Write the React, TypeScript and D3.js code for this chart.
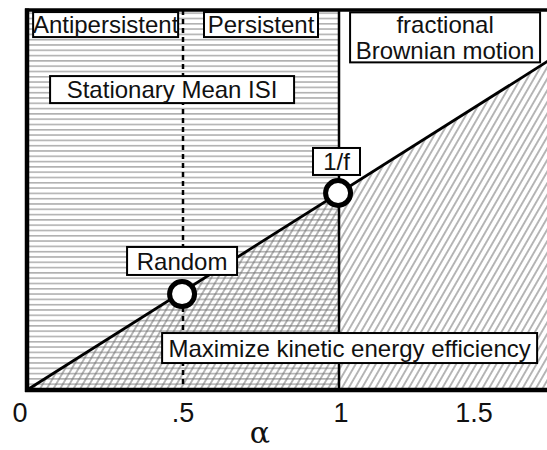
import { useEffect, useRef } from 'react'
import * as d3 from 'd3'

const W = 547
const H = 450
const FONT = '"Liberation Sans", Arial, sans-serif'

// x axis
const X_TICKS = [0, 0.5, 1, 1.5]
const X_TICK_LABELS = ['0', '.5', '1', '1.5']
const X_LABEL = 'α'

// region boundaries (alpha)
const STATIONARY_RANGE = [0, 1]
const RANDOM_ALPHA = 0.5
const FBM_START = 1

// diagonal boundary: value = alpha
const DIAG_ALPHA = [0, 1.8]
const DIAG_VALUE = [0, 1.8]

// marked points
const POINT_NAMES = ['Random', '1/f']
const POINT_ALPHA = [0.497, 0.997]
const POINT_VALUE = [0.487, 1.0]

// annotation texts
const ANNOT_TEXT = [
  ['Antipersistent'],
  ['Persistent'],
  ['fractional', 'Brownian motion'],
  ['Stationary Mean ISI'],
  ['1/f'],
  ['Random'],
  ['Maximize kinetic energy efficiency'],
]
// centre of each box in data units
const ANNOT_ALPHA = [0.252, 0.75, 1.34, 0.465, 0.992, 0.497, 1.034]
const ANNOT_VALUE = [1.855, 1.855, 1.79, 1.525, 1.16, 0.655, 0.213]

// layout (pixels)
const BOX_W = [145, 114, 190, 244, 47, 110, 375]
const BOX_H = [25, 25, 50, 27, 27, 28, 30]
const TICK_DX = [-7, 0, 2, -21]

export default function App() {
  const svgRef = useRef<SVGSVGElement>(null)

  useEffect(() => {
    if (!svgRef.current) return
    const svg = d3.select(svgRef.current)
    svg.selectAll('*').remove()

    const x = d3.scaleLinear().domain([0, 1]).range([27, 339])
    const y = d3.scaleLinear().domain([0, 1]).range([390, 193])
    const top = 10
    const bottom = y(0)
    const left = x(0)

    const defs = svg.append('defs')
    const hp = defs.append('pattern').attr('id', 'hatch-h').attr('patternUnits', 'userSpaceOnUse')
      .attr('width', 10).attr('height', 5.3)
    hp.append('line').attr('x1', 0).attr('x2', 10).attr('y1', 2.6).attr('y2', 2.6)
      .attr('stroke', '#808080').attr('stroke-width', 1)
    const dp = defs.append('pattern').attr('id', 'hatch-d').attr('patternUnits', 'userSpaceOnUse')
      .attr('width', 5.8).attr('height', 10).attr('patternTransform', 'rotate(30)')
    dp.append('line').attr('x1', 2.9).attr('x2', 2.9).attr('y1', 0).attr('y2', 10)
      .attr('stroke', '#6e6e6e').attr('stroke-width', 1)

    // Stationary region: horizontal hatching
    svg.append('rect')
      .attr('x', x(STATIONARY_RANGE[0])).attr('y', top)
      .attr('width', x(STATIONARY_RANGE[1]) - x(STATIONARY_RANGE[0]))
      .attr('height', bottom - top)
      .attr('fill', 'url(#hatch-h)')

    // below diagonal: slanted hatching
    const diag = DIAG_ALPHA.map((a, i) => [x(a), y(DIAG_VALUE[i])] as [number, number])
    const poly: [number, number][] = [diag[0], diag[1], [diag[1][0], bottom]]
    svg.append('path').attr('d', d3.line()(poly) + 'Z').attr('fill', 'url(#hatch-d)')

    // alpha = .5 dashed
    svg.append('line')
      .attr('x1', x(RANDOM_ALPHA)).attr('x2', x(RANDOM_ALPHA))
      .attr('y1', top).attr('y2', bottom)
      .attr('stroke', '#000').attr('stroke-width', 2.5).attr('stroke-dasharray', '5,4')

    // alpha = 1 solid
    svg.append('line')
      .attr('x1', x(FBM_START)).attr('x2', x(FBM_START))
      .attr('y1', top).attr('y2', bottom)
      .attr('stroke', '#000').attr('stroke-width', 2.5)

    // diagonal
    svg.append('path').attr('d', d3.line()(diag)).attr('stroke', '#000')
      .attr('stroke-width', 2.8).attr('fill', 'none')

    // frame
    svg.append('line').attr('x1', left - 2).attr('x2', W).attr('y1', top).attr('y2', top)
      .attr('stroke', '#000').attr('stroke-width', 3.5)
    svg.append('line').attr('x1', left - 2).attr('x2', W).attr('y1', bottom).attr('y2', bottom)
      .attr('stroke', '#000').attr('stroke-width', 4.5)
    svg.append('line').attr('x1', left).attr('x2', left).attr('y1', top - 1.5).attr('y2', bottom + 2)
      .attr('stroke', '#000').attr('stroke-width', 4.5)

    // annotation boxes
    ANNOT_TEXT.forEach((lines, i) => {
      const cx = x(ANNOT_ALPHA[i])
      const cy = y(ANNOT_VALUE[i])
      const g = svg.append('g')
      g.append('rect')
        .attr('x', cx - BOX_W[i] / 2).attr('y', cy - BOX_H[i] / 2)
        .attr('width', BOX_W[i]).attr('height', BOX_H[i])
        .attr('fill', '#fff').attr('stroke', '#000').attr('stroke-width', 2)
      const lh = 26
      lines.forEach((t, j) => {
        g.append('text')
          .attr('x', cx).attr('y', cy + (j - (lines.length - 1) / 2) * lh)
          .attr('dy', '0.36em')
          .attr('text-anchor', 'middle')
          .style('font-family', FONT).style('font-size', '24px').attr('fill', '#111')
          .text(t)
      })
    })

    // points
    POINT_NAMES.forEach((_, i) => {
      svg.append('circle')
        .attr('cx', x(POINT_ALPHA[i])).attr('cy', y(POINT_VALUE[i])).attr('r', 12.5)
        .attr('fill', '#fff').attr('stroke', '#000').attr('stroke-width', 5)
    })

    // ticks
    X_TICKS.forEach((t, i) => {
      svg.append('text')
        .attr('x', x(t) + TICK_DX[i]).attr('y', 422)
        .attr('text-anchor', 'middle')
        .style('font-family', FONT).style('font-size', '27px').attr('fill', '#111')
        .text(X_TICK_LABELS[i])
    })
    svg.append('text')
      .attr('x', 260).attr('y', 443)
      .attr('text-anchor', 'middle')
      .style('font-family', '"DejaVu Serif", serif').style('font-size', '30px').attr('fill', '#111')
      .text(X_LABEL)
  }, [])

  return (
    <svg ref={svgRef} width={W} height={H}
      style={{ position: 'absolute', left: 0, top: 0, background: '#fff' }} />
  )
}
